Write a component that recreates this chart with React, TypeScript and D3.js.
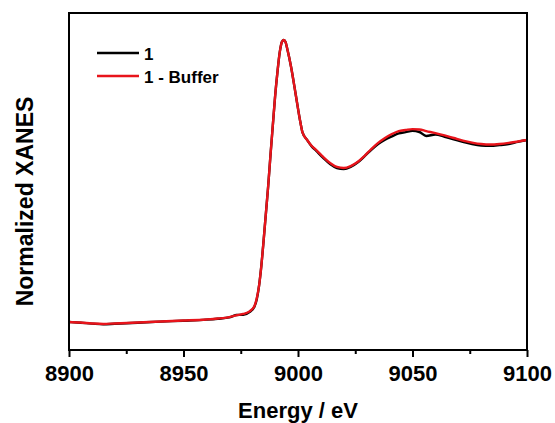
import React, { useEffect, useRef } from "react";
import * as d3 from "d3";

// energy grid (eV) and normalized absorption
const energy = [
  8900, 8905, 8910, 8915, 8920, 8930, 8940, 8950, 8960, 8965, 8970, 8973, 8976, 8979,
  8981, 8982, 8983, 8984, 8985, 8986, 8987, 8988, 8989, 8990, 8991, 8992, 8993, 8993.7,
  8994.5, 8995.5, 8997, 8999, 9001, 9002, 9004, 9006, 9008, 9011, 9014, 9017, 9020,
  9023, 9026, 9029, 9032, 9035, 9038, 9041, 9044, 9047, 9050, 9053, 9056, 9060, 9064,
  9068, 9072, 9076, 9080, 9084, 9088, 9092, 9096, 9100,
];

const sample = [
  0.0, -0.004, -0.009, -0.013, -0.01, -0.004, 0.002, 0.007, 0.013, 0.018, 0.025, 0.038,
  0.04, 0.056, 0.085, 0.125, 0.2, 0.31, 0.45, 0.6, 0.75, 0.92, 1.08, 1.24, 1.37, 1.48,
  1.54, 1.55, 1.54, 1.49, 1.4, 1.25, 1.1, 1.04, 1.0, 0.965, 0.94, 0.902, 0.868, 0.846,
  0.84, 0.852, 0.876, 0.91, 0.946, 0.978, 1.002, 1.02, 1.036, 1.043, 1.05, 1.044, 1.022,
  1.03, 1.018, 1.003, 0.99, 0.978, 0.97, 0.968, 0.972, 0.978, 0.99, 1.0,
];

const buffer = [
  0.0, -0.003, -0.008, -0.011, -0.008, -0.003, 0.003, 0.008, 0.014, 0.019, 0.027, 0.036,
  0.044, 0.06, 0.088, 0.13, 0.2, 0.31, 0.45, 0.6, 0.75, 0.92, 1.08, 1.24, 1.37, 1.48,
  1.54, 1.55, 1.54, 1.49, 1.4, 1.25, 1.1, 1.04, 1.0, 0.967, 0.945, 0.907, 0.874, 0.852,
  0.846, 0.857, 0.879, 0.912, 0.95, 0.984, 1.011, 1.033, 1.049, 1.055, 1.06, 1.058,
  1.049, 1.038, 1.025, 1.011, 0.997, 0.986, 0.978, 0.975, 0.978, 0.984, 0.992, 1.0,
];

const xTicks = [8900, 8950, 9000, 9050, 9100];
const xMinor = [8925, 8975, 9025, 9075];

const series = [
  { name: "1", color: "#000000", values: sample },
  { name: "1 - Buffer", color: "#e8141b", values: buffer },
];

export default function App() {
  const ref = useRef<SVGSVGElement>(null);

  useEffect(() => {
    const svg = d3.select(ref.current);
    svg.selectAll("*").remove();

    const left = 69, right = 527, top = 13, bottom = 350;
    const x = d3.scaleLinear().domain([8900, 9100]).range([left, right]);
    const y = d3.scaleLinear().domain([-0.154, 1.698]).range([bottom, top]);
    const font = "'Liberation Sans', Arial, sans-serif";

    const line = d3
      .line<number>()
      .x((_, i) => x(energy[i]))
      .y((d) => y(d))
      .curve(d3.curveMonotoneX);

    series.forEach((s) => {
      svg.append("path")
        .datum(s.values)
        .attr("fill", "none")
        .attr("stroke", s.color)
        .attr("stroke-width", 2.4)
        .attr("stroke-linejoin", "round")
        .attr("d", line);
    });

    // frame
    svg.append("rect")
      .attr("x", left).attr("y", top)
      .attr("width", right - left).attr("height", bottom - top)
      .attr("fill", "none").attr("stroke", "#000").attr("stroke-width", 2);

    const axis = svg.append("g")
      .attr("transform", `translate(0,${bottom})`)
      .call(d3.axisBottom(x).tickValues(xTicks).tickSize(7).tickSizeOuter(0).tickPadding(8).tickFormat(d3.format("d")));
    axis.select(".domain").remove();
    axis.selectAll("line").attr("stroke-width", 2);
    axis.selectAll("text")
      .attr("font-family", font).attr("font-weight", "bold").attr("font-size", 22).attr("fill", "#000");

    svg.append("g")
      .attr("transform", `translate(0,${bottom})`)
      .call(d3.axisBottom(x).tickValues(xMinor).tickSize(4).tickFormat(() => ""))
      .call((g) => g.select(".domain").remove())
      .selectAll("line").attr("stroke-width", 2);

    svg.append("text")
      .attr("x", (left + right) / 2).attr("y", 418)
      .attr("text-anchor", "middle")
      .attr("font-family", font).attr("font-weight", "bold").attr("font-size", 22)
      .text("Energy / eV");

    svg.append("text")
      .attr("transform", `translate(33,${(top + bottom) / 2 + 20}) rotate(-90)`)
      .attr("text-anchor", "middle")
      .attr("font-family", font).attr("font-weight", "bold").attr("font-size", 23)
      .text("Normalized XANES");

    // legend
    series.forEach((s, i) => {
      const ly = 53 + i * 23;
      svg.append("line")
        .attr("x1", 97).attr("x2", 139).attr("y1", ly).attr("y2", ly)
        .attr("stroke", s.color).attr("stroke-width", 2.4);
      svg.append("text")
        .attr("x", 144).attr("y", ly + 6.5)
        .attr("font-family", font).attr("font-weight", "bold").attr("font-size", 17)
        .text(s.name);
    });
  }, []);

  return <svg ref={ref} width={555} height={423} style={{ position: "absolute", left: 0, top: 0, background: "#fff" }} />;
}
